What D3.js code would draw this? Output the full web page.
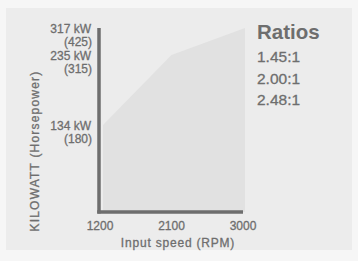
<!DOCTYPE html>
<html><head><meta charset="utf-8">
<script src="https://cdn.jsdelivr.net/npm/d3@7"></script>
<style>
html,body{margin:0;padding:0;background:#f6f6f6;}
svg{display:block;font-family:"Liberation Sans",Arial,sans-serif;}
</style></head><body>
<svg id="chart" width="358" height="261"></svg>
<script>
// Data
const rpm = [1200, 2100, 3000];
const kw = [134, 235, 317];
const hp = [180, 315, 425];
const rpmTicks = [1200, 2100, 3000];
const ratios = ["1.45:1", "2.00:1", "2.48:1"];

const svg = d3.select("#chart");
const ink = "#6e6e6e";

// panel
svg.append("rect").attr("x", 6).attr("y", 8).attr("width", 346).attr("height", 242).attr("fill", "#ececec");

const x = d3.scaleLinear().domain([1200, 3000]).range([100, 243]);
// piecewise y scale (chart is not drawn to a linear scale)
const y = d3.scaleLinear().domain([0, 134, 235, 317]).range([212, 125, 55, 28]);

const pts = rpm.map((r, i) => ({r, v: kw[i]}));
const area = d3.area()
  .x(d => d.r === 1200 ? x(d.r) + 3 : (d.r === 3000 ? x(d.r) + 2 : x(d.r)))
  .y0(y(0)).y1(d => y(d.v));
svg.append("path").datum(pts).attr("d", area).attr("fill", "#e1e1e1");

// axes lines
svg.append("line").attr("x1", x(1200) - 1).attr("x2", x(1200) - 1).attr("y1", y(317)).attr("y2", y(0) + 1.5)
  .attr("stroke", ink).attr("stroke-width", 3.5);
svg.append("line").attr("x1", x(1200) - 2.75).attr("x2", x(3000)).attr("y1", y(0)).attr("y2", y(0))
  .attr("stroke", ink).attr("stroke-width", 3.5);

const txt = (sel) => sel.attr("fill", ink).attr("stroke", ink).attr("stroke-width", 0.3);

// y labels
const yl = svg.append("g").attr("font-size", 12).attr("text-anchor", "end").call(txt);
kw.forEach((v, i) => {
  yl.append("text").attr("x", 91).attr("y", y(v) + 5).text(v + " kW");
  yl.append("text").attr("x", 92).attr("y", y(v) + 18).text("(" + hp[i] + ")");
});

// x tick labels
const xl = svg.append("g").attr("font-size", 12).attr("text-anchor", "middle").call(txt);
rpmTicks.forEach(t => xl.append("text").attr("x", x(t)).attr("y", 230).text(t));

svg.append("text").attr("x", 178).attr("y", 247).attr("text-anchor", "middle").call(txt)
  .attr("font-size", 12).attr("letter-spacing", 0.8).text("Input speed (RPM)");

svg.append("text").attr("transform", "translate(39,151) rotate(-90)").attr("text-anchor", "middle").call(txt)
  .attr("font-size", 12).attr("letter-spacing", 1.2).text("KILOWATT (Horsepower)");

// Ratios legend
svg.append("text").attr("x", 257).attr("y", 39).attr("fill", ink).attr("font-size", 20.5).attr("font-weight", "bold").text("Ratios");
ratios.forEach((r, i) => svg.append("text").attr("x", 257).attr("y", 62 + i * 21.5).call(txt)
  .attr("font-size", 15.5).text(r));
</script>
</body></html>
